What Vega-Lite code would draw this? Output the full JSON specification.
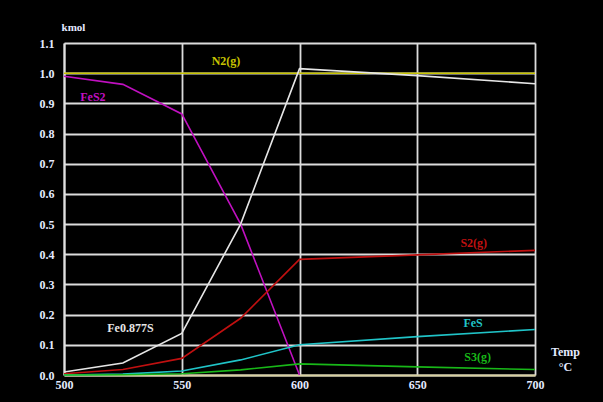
{
  "$schema": "https://vega.github.io/schema/vega-lite/v6.json",
  "autosize": "none",
  "width": 471,
  "height": 332,
  "padding": {"left": 64, "top": 43, "right": 68, "bottom": 27},
  "background": "#000000",
  "config": {
    "view": {"stroke": null},
    "axis": {
      "labelFont": "Liberation Serif",
      "labelFontWeight": "bold",
      "labelFontSize": 12,
      "labelColor": "#e4eaff",
      "labelFlush": false,
      "labelOverlap": false,
      "titleFont": "Liberation Serif",
      "titleFontWeight": "bold",
      "titleColor": "#e4eaff",
      "gridColor": "#dcdcdc",
      "gridWidth": 1.8,
      "gridOpacity": 1,
      "ticks": false
    },
    "text": {"font": "Liberation Serif", "fontWeight": "bold", "fontSize": 12}
  },
  "datasets": {
    "lines": [
      {"series": "N2(g)", "temp": 500, "kmol": 1.0},
      {"series": "N2(g)", "temp": 600, "kmol": 1.0},
      {"series": "N2(g)", "temp": 700, "kmol": 1.0},
      {"series": "FeS2", "temp": 500, "kmol": 0.99},
      {"series": "FeS2", "temp": 525, "kmol": 0.963},
      {"series": "FeS2", "temp": 550, "kmol": 0.865},
      {"series": "FeS2", "temp": 575, "kmol": 0.5},
      {"series": "FeS2", "temp": 600, "kmol": 0.0},
      {"series": "Fe0.877S", "temp": 500, "kmol": 0.01},
      {"series": "Fe0.877S", "temp": 525, "kmol": 0.04},
      {"series": "Fe0.877S", "temp": 550, "kmol": 0.138},
      {"series": "Fe0.877S", "temp": 575, "kmol": 0.5},
      {"series": "Fe0.877S", "temp": 600, "kmol": 1.015},
      {"series": "Fe0.877S", "temp": 650, "kmol": 0.992},
      {"series": "Fe0.877S", "temp": 700, "kmol": 0.965},
      {"series": "S2(g)", "temp": 500, "kmol": 0.004},
      {"series": "S2(g)", "temp": 525, "kmol": 0.018},
      {"series": "S2(g)", "temp": 550, "kmol": 0.055},
      {"series": "S2(g)", "temp": 575, "kmol": 0.188},
      {"series": "S2(g)", "temp": 600, "kmol": 0.383},
      {"series": "S2(g)", "temp": 650, "kmol": 0.398},
      {"series": "S2(g)", "temp": 700, "kmol": 0.413},
      {"series": "FeS", "temp": 500, "kmol": 0.0},
      {"series": "FeS", "temp": 525, "kmol": 0.003},
      {"series": "FeS", "temp": 550, "kmol": 0.013},
      {"series": "FeS", "temp": 575, "kmol": 0.05},
      {"series": "FeS", "temp": 600, "kmol": 0.1},
      {"series": "FeS", "temp": 650, "kmol": 0.127},
      {"series": "FeS", "temp": 700, "kmol": 0.151},
      {"series": "S3(g)", "temp": 500, "kmol": 0.0},
      {"series": "S3(g)", "temp": 525, "kmol": 0.001},
      {"series": "S3(g)", "temp": 550, "kmol": 0.004},
      {"series": "S3(g)", "temp": 575, "kmol": 0.017},
      {"series": "S3(g)", "temp": 600, "kmol": 0.037},
      {"series": "S3(g)", "temp": 650, "kmol": 0.027},
      {"series": "S3(g)", "temp": 700, "kmol": 0.018}
    ],
    "labels": [
      {"series": "N2(g)", "temp": 568.8, "kmol": 1.04},
      {"series": "FeS2", "temp": 512.3, "kmol": 0.922},
      {"series": "Fe0.877S", "temp": 528.2, "kmol": 0.155},
      {"series": "S2(g)", "temp": 674, "kmol": 0.436},
      {"series": "FeS", "temp": 673.7, "kmol": 0.171},
      {"series": "S3(g)", "temp": 675.6, "kmol": 0.059}
    ]
  },
  "encoding": {
    "x": {
      "field": "temp", "type": "quantitative",
      "scale": {"domain": [500, 700], "nice": false, "zero": false},
      "axis": {
        "values": [500, 550, 600, 650, 700],
        "domainColor": "#d8d0a0", "domainWidth": 2,
        "labelPadding": 4,
        "title": ["Temp", "°C"],
        "titleFontSize": 12,
        "titleX": 501, "titleY": -29,
        "titleAlign": "center", "titleBaseline": "top",
        "titleLineHeight": 15, "titleAngle": 0
      }
    },
    "y": {
      "field": "kmol", "type": "quantitative",
      "scale": {"domain": [0, 1.1], "nice": false},
      "axis": {
        "values": [0, 0.1, 0.2, 0.3, 0.4, 0.5, 0.6, 0.7, 0.8, 0.9, 1.0, 1.1],
        "format": ".1f",
        "domainColor": "#e0e0e0", "domainWidth": 2,
        "labelPadding": 10,
        "title": "kmol",
        "titleFontSize": 11,
        "titleAngle": 0,
        "titleX": 9, "titleY": -16,
        "titleAlign": "center", "titleBaseline": "middle"
      }
    },
    "color": {
      "field": "series", "type": "nominal", "legend": null,
      "scale": {
        "domain": ["N2(g)", "FeS2", "Fe0.877S", "S2(g)", "FeS", "S3(g)"],
        "range": ["#c8c400", "#c010c0", "#e6e6e6", "#c01010", "#20c4c8", "#18b818"]
      }
    }
  },
  "layer": [
    {
      "data": {"name": "lines"},
      "mark": {"type": "line", "strokeWidth": 1.6},
      "encoding": {"detail": {"field": "series"}}
    },
    {
      "data": {"name": "labels"},
      "mark": {"type": "text", "align": "center", "baseline": "middle"},
      "encoding": {"text": {"field": "series"}}
    }
  ]
}
